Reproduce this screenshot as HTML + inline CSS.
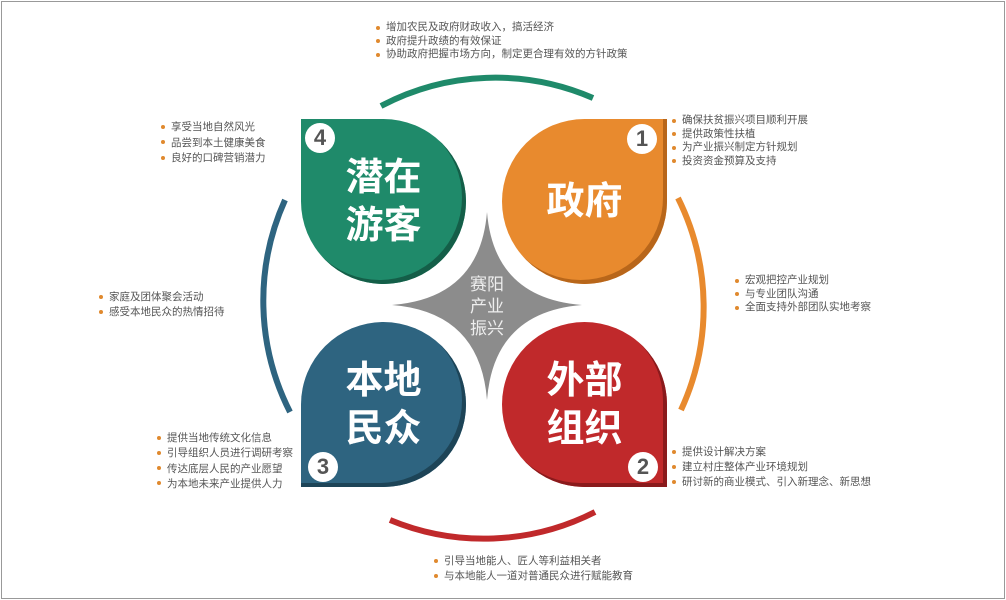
<!DOCTYPE html>
<html><head><meta charset="utf-8"><style>
body{margin:0;width:1006px;height:600px;background:#fff;position:relative;overflow:hidden;font-family:"Liberation Sans","Noto Sans CJK SC",sans-serif}
.frame{position:absolute;left:1px;top:1px;width:1002px;height:596px;border:1px solid #999}
.drop{position:absolute;width:165px;height:165px;border-radius:50%;color:#fff;font-weight:600;font-size:38px;line-height:48px;text-align:center;display:flex;align-items:center;justify-content:center}
.num{position:absolute;width:30px;height:30px;border-radius:50%;background:#fff;color:#555;font-weight:bold;font-size:22px;line-height:30px;text-align:center}
.t{position:absolute;font-size:10.5px;color:#555;line-height:13.5px;white-space:nowrap}
.t div{position:relative;padding-left:10px}
.t div:before{content:"";position:absolute;left:0;top:4.5px;width:4px;height:4px;border-radius:50%;background:#e0892e}
</style></head><body>
<div class="frame"></div>
<svg width="1006" height="600" style="position:absolute;left:0;top:0">
<g fill="none" stroke-width="6">
<path d="M381,106 A245,245 0 0 1 593,98" stroke="#1f8a6a"/>
<path d="M678,198 A245,245 0 0 1 681,410" stroke="#e88a2e"/>
<path d="M595,512 A245,245 0 0 1 390,520" stroke="#c0292b"/>
<path d="M290,412 A245,245 0 0 1 285,200" stroke="#2e6480"/>
</g>
<path d="M487,212 Q494,298 582,305 Q494,312 487,400 Q480,312 392,305 Q480,298 487,212Z" fill="#8c8c8c"/>
<text x="487" y="290" fill="#eee" font-size="17" text-anchor="middle" font-family="Liberation Sans,Noto Sans CJK SC,sans-serif">赛阳</text>
<text x="487" y="312" fill="#eee" font-size="17" text-anchor="middle" font-family="Liberation Sans,Noto Sans CJK SC,sans-serif">产业</text>
<text x="487" y="334" fill="#eee" font-size="17" text-anchor="middle" font-family="Liberation Sans,Noto Sans CJK SC,sans-serif">振兴</text>
</svg>
<div class="drop" style="left:301px;top:119px;background:#1f8a6a;border-top-left-radius:0;box-shadow:inset -4px -4px 0 #145e48">潜在<br>游客</div>
<div class="drop" style="left:502px;top:119px;background:#e88a2e;border-top-right-radius:0;box-shadow:inset -4px -4px 0 #b8661a">政府</div>
<div class="drop" style="left:301px;top:322px;background:#2e6480;border-bottom-left-radius:0;box-shadow:inset -4px -4px 0 #1d4457">本地<br>民众</div>
<div class="drop" style="left:502px;top:322px;background:#c0292b;border-bottom-right-radius:0;box-shadow:inset -4px -4px 0 #8a1a1c">外部<br>组织</div>
<div class="num" style="left:305px;top:123px">4</div>
<div class="num" style="left:627px;top:124px">1</div>
<div class="num" style="left:308px;top:452px">3</div>
<div class="num" style="left:628px;top:452px">2</div>
<div class="t" style="left:376px;top:21px"><div>增加农民及政府财政收入，搞活经济</div><div>政府提升政绩的有效保证</div><div>协助政府把握市场方向，制定更合理有效的方针政策</div></div>
<div class="t" style="left:672px;top:114px"><div>确保扶贫振兴项目顺利开展</div><div>提供政策性扶植</div><div>为产业振兴制定方针规划</div><div>投资资金预算及支持</div></div>
<div class="t" style="left:735px;top:274px"><div>宏观把控产业规划</div><div>与专业团队沟通</div><div>全面支持外部团队实地考察</div></div>
<div class="t" style="left:672px;top:445px;line-height:15px"><div>提供设计解决方案</div><div>建立村庄整体产业环境规划</div><div>研讨新的商业模式、引入新理念、新思想</div></div>
<div class="t" style="left:434px;top:554px;line-height:15px"><div>引导当地能人、匠人等利益相关者</div><div>与本地能人一道对普通民众进行赋能教育</div></div>
<div class="t" style="left:161px;top:120px;line-height:15.5px"><div>享受当地自然风光</div><div>品尝到本土健康美食</div><div>良好的口碑营销潜力</div></div>
<div class="t" style="left:99px;top:290px;line-height:15px"><div>家庭及团体聚会活动</div><div>感受本地民众的热情招待</div></div>
<div class="t" style="left:157px;top:431px;line-height:15.3px"><div>提供当地传统文化信息</div><div>引导组织人员进行调研考察</div><div>传达底层人民的产业愿望</div><div>为本地未来产业提供人力</div></div>
</body></html>
